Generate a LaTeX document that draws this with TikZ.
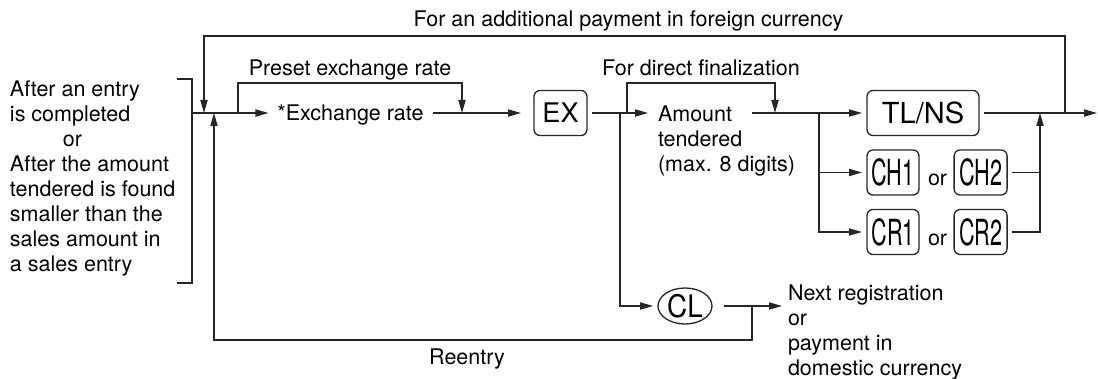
\documentclass[tikz,border=0pt]{standalone}
\usepackage{fontspec}
\setmainfont{TeX Gyre Heros}
\usepackage{graphicx}
\usetikzlibrary{arrows.meta,positioning,shapes.geometric}

\newcommand{\narrowkey}[1]{\scalebox{0.6}[1]{#1}}

\begin{document}
\begin{tikzpicture}[
  x=0.5pt, y=-0.5pt,
  font=\fontsize{10.75}{12.5}\selectfont,
  >={Triangle[length=6.5pt, width=3.6pt]},
  line width=0.65pt, draw=black!85,
  keybox/.style={rectangle, rounded corners=3pt, draw=black!85, inner sep=0pt, outer sep=2.5pt,
                 minimum height=22.5pt},
  keyround/.style={ellipse, draw=black!85, inner sep=0pt, outer sep=2.5pt,
                   minimum width=27pt, minimum height=18pt},
  keytxt/.style={font=\fontsize{18}{18}\selectfont},
  txt/.style={inner sep=0pt, outer sep=4.5pt, text height=7.75pt, text depth=0pt},
  orlbl/.style={inner sep=0pt, outer sep=0pt},
  note/.style={inner sep=0pt, outer sep=0pt, align=left, anchor=north west},
  link/.style={->},
  lbl/.style={inner sep=0pt, text height=7.75pt, text depth=0pt},
]
\useasboundingbox (0,0) rectangle (1098,379);

% starting condition and bracket
\node[note] (src) at (10,81) {After an entry\\is completed\\\hspace*{26.5pt}or\\After the amount\\tendered is found\\smaller than the\\sales amount in\\a sales entry};
\draw (177,79) -| (192,283) -- (177,283);

\coordinate (brk) at (192,113);
\coordinate (fin) at (204,113);
\coordinate (rin) at (214,113);
\coordinate (pre) at (238,113);
\coordinate (preend) at (462,113);

\node[txt] (rate) at (350.5,113) {*Exchange rate};
\node[keybox, minimum width=26.5pt, font=\fontsize{13.5}{13.5}\selectfont] (ex) at (560.5,113) {EX};

\coordinate (cljn) at (620,113);
\coordinate (dir) at (627,113);
\node[note] (amt) at (658,106) {Amount\\tendered\\(max. 8 digits)};
\coordinate (amtout) at (752,113);
\coordinate (dirend) at (775,113);
\coordinate (br) at (819,113);

% finalization keys
\node[keybox, minimum width=56pt, font=\fontsize{14.5}{14.5}\selectfont] (tlns) at (923,113) {TL/NS};
\node[keybox, minimum width=26pt, keytxt] (ch1) at (893,172.5) {\narrowkey{CH1}};
\node[orlbl, base right=2pt of ch1] (orch) {or};
\node[keybox, minimum width=26.5pt, keytxt, base right=1pt of orch] (ch2) {\narrowkey{CH2}};
\node[keybox, minimum width=26pt, keytxt] (cr1) at (893,232) {\narrowkey{CR1}};
\node[orlbl, base right=2pt of cr1] (orcr) {or};
\node[keybox, minimum width=26.5pt, keytxt, base right=1pt of orcr] (cr2) {\narrowkey{CR2}};

\coordinate (mg) at (1040,113);
\coordinate (fx) at (1065,113);
\coordinate (exit) at (1097,113);

% clear key
\node[keyround, font=\fontsize{15.5}{15.5}\selectfont] (cl) at (685,306) {\scalebox{0.9}[1]{CL}};
\coordinate (re) at (752,306);
\node[note] (nxt) at (788,285) {Next registration\\or\\payment in\\domestic currency};

\draw[link] (brk) -- (rate);
\draw[link, shorten >=4pt] (rate) -- (ex);
\draw[link, shorten >=5pt] (ex) -- (ex -| amt.west);
\draw[link] (amtout) -- (tlns);
\draw[link] (tlns) -- (exit);
\draw[link] (br) |- (ch1);
\draw[link] (br) |- (cr1);
\draw (ch2) -- (ch2 -| mg);
\draw[link] (cr2) -| (mg);
\draw[link] (cljn) |- (cl);
\draw[link, shorten <=3.5pt, shorten >=3pt] (cl) -- (cl -| nxt.west);

% bypass and return loops
\draw[link] (pre) -- ++(0,-30) -| node[lbl, above=3.5pt, pos=.25] {Preset exchange rate} (preend);
\draw[link] (dir) -- ++(0,-30) -| node[lbl, above=3.5pt, pos=.25] {For direct finalization} (dirend);
\draw[link] (fx) -- ++(0,-77) -| node[lbl, above=4.5pt, pos=.25, xshift=-3pt] {For an additional payment in foreign currency} (fin);
\draw[link] (re) -- ++(0,34) -| node[lbl, below=4pt, pos=.25, xshift=-8pt] {Reentry} (rin);

\end{tikzpicture}
\end{document}
